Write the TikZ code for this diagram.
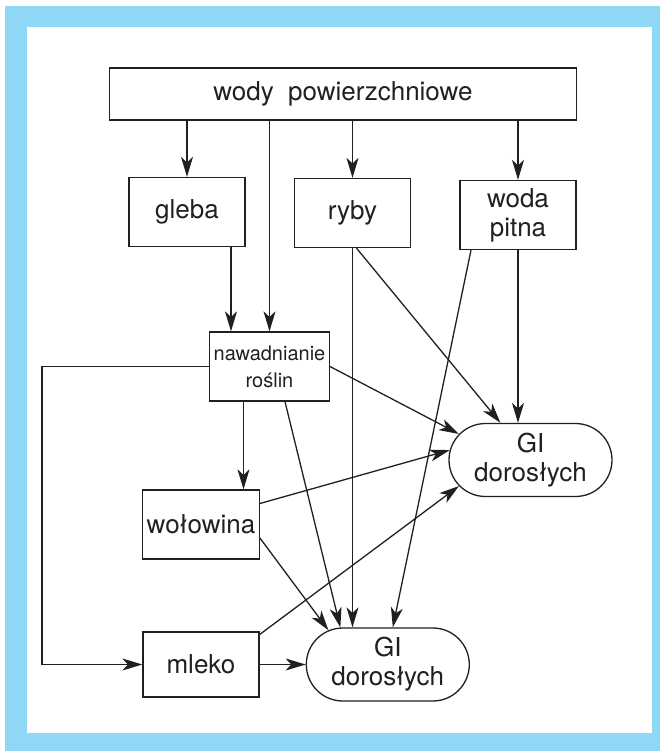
\documentclass[tikz,border=0pt]{standalone}
\usepackage{fontspec}
\setmainfont{TeX Gyre Heros}
\usetikzlibrary{arrows.meta,positioning,shapes.misc}
\definecolor{framebl}{RGB}{143,216,245}
\definecolor{inkgray}{RGB}{35,31,32}

\begin{document}
\begin{tikzpicture}[
    x=0.5pt, y=-0.5pt,
    box/.style={draw=inkgray, line width=0.65pt, minimum width=58pt, minimum height=34.5pt,
                align=center, inner sep=2pt, text=inkgray, font=\fontsize{13}{14.5}\selectfont},
    gut/.style={box, rounded rectangle, minimum width=85.5pt, minimum height=36.5pt},
    flow/.style={-{Stealth[length=10pt, width=6pt, inset=2.8pt]}, draw=inkgray, line width=0.65pt}]
  \fill[framebl] (5,6) rectangle (660,751);
  \fill[white] (27,27) rectangle (652,733);
  \useasboundingbox (0,0) rectangle (665,751);
  \node[box, minimum width=233.5pt, minimum height=26pt] (wody) at (343,94) {wody\ \ powierzchniowe};
  \node[box] (gleba) at (187,212) {gleba};
  \node[box] (ryby) at (352.5,213) {ryby};
  \node[box] (woda) at (518,215) {woda\\pitna};
  \node[box, font=\fontsize{10}{13.5}\selectfont] (naw) at (269.5,366.5) {nawadnianie\\roślin};
  \node[gut] (gi1) at (530.5,460) {GI\\dorosłych};
  \node[box] (wol) at (201,524.5) {wołowina};
  \node[box, minimum height=32.5pt] (mleko) at (201,664.5) {mleko};
  \node[gut, right=23pt of mleko] (gi2) {GI\\dorosłych};
  \draw[flow] (wody.south -| gleba) -- (gleba);
  \draw[flow] (wody.south -| naw) -- (naw);
  \draw[flow] (wody.south -| ryby) -- (ryby);
  \draw[flow] (wody.south -| woda) -- (woda);
  \draw[flow] ([xshift=22pt]gleba.south) -- ([xshift=22pt]gleba.south |- naw.north);
  \draw[flow] (ryby.south) -- (ryby.south |- gi2.north);
  \draw[flow] ([xshift=2pt]ryby.south) -- (gi1.129);
  \draw[flow] (woda.south) -- (woda.south |- gi1.north);
  \draw[flow] ([xshift=-23.5pt]woda.south) -- ([xshift=2.5pt]gi2.north);
  \draw[flow] (naw.east) -- (gi1.160);
  \draw[flow] ([xshift=-13pt]naw.south) -- ([xshift=-13pt]naw.south |- wol.north);
  \draw[flow] ([xshift=7.75pt]naw.south) -- (gi2.142);
  \draw[flow] (naw.west) -- ++(-83.5pt,0) |- (mleko.west);
  \draw[flow] ([yshift=10.5pt]wol.east) -- (gi1.173);
  \draw[flow] ([yshift=-6.75pt]wol.east) -- (gi2.150);
  \draw[flow] ([yshift=15pt]mleko.east) -- (gi1.200);
  \draw[flow] (mleko) -- (gi2);
\end{tikzpicture}
\end{document}
